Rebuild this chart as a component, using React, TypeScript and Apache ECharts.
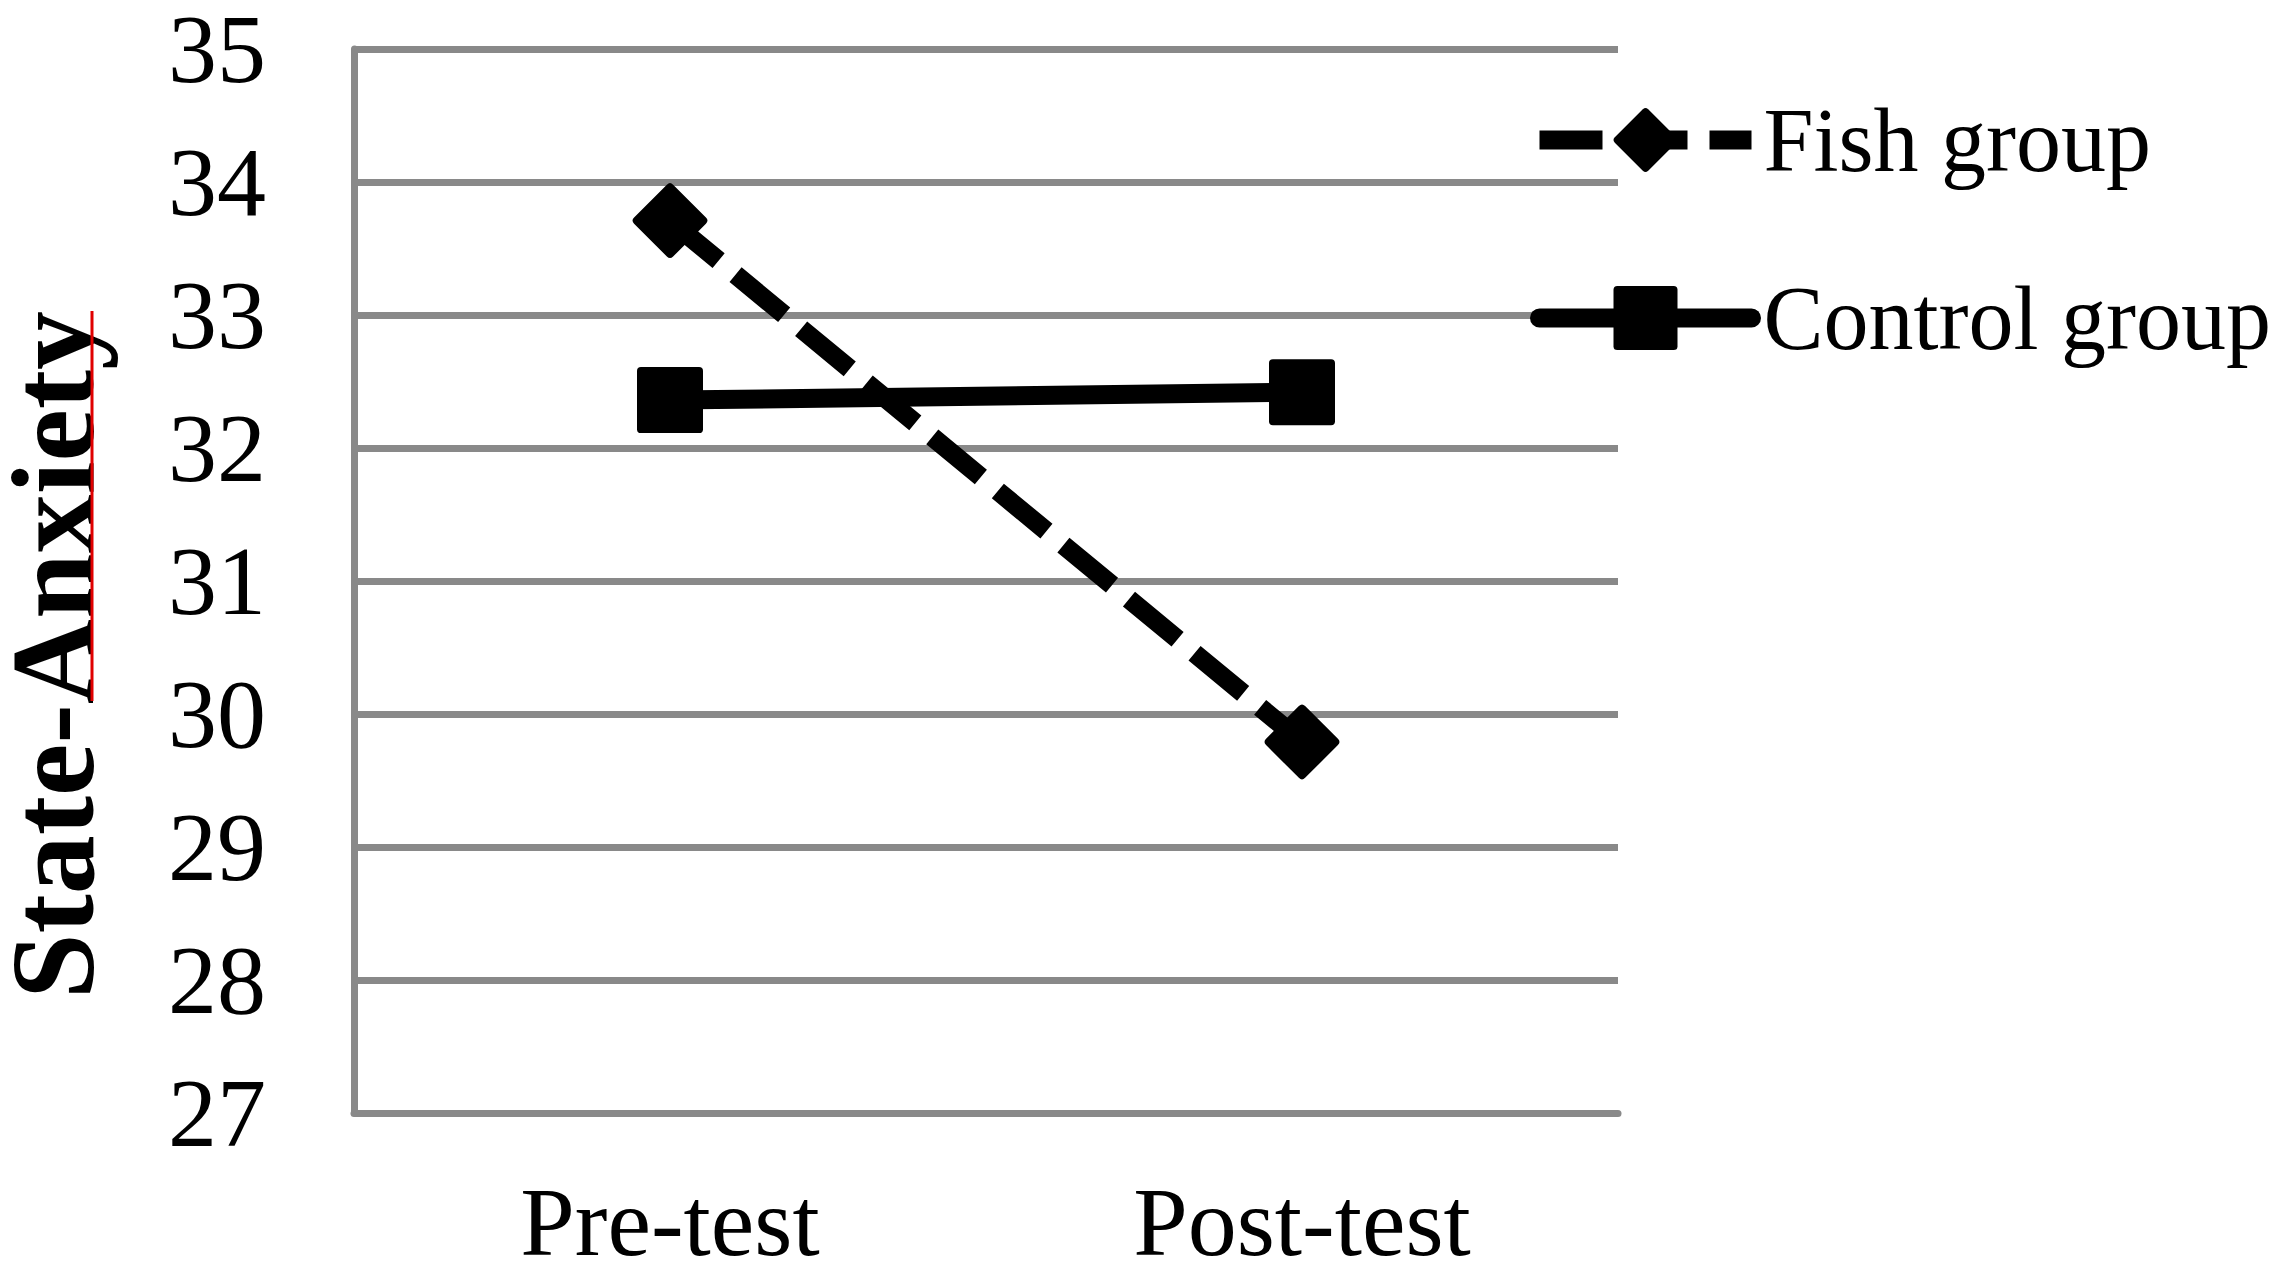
import React, { useEffect, useRef } from "react";
import * as echarts from "echarts";

const categories = ["Pre-test", "Post-test"];
const fishValues = [33.71, 29.79];
const controlValues = [32.36, 32.42];
const seriesNames = ["Fish group", "Control group"];
const yTitle = "State-Anxiety";
const yMin = 27;
const yMax = 35;
const yInterval = 1;

const DIAMOND =
  "path://M46,4 Q50,0 54,4 L96,46 Q100,50 96,54 L54,96 Q50,100 46,96 L4,54 Q0,50 4,46 Z";
const SQUARE =
  "path://M6,0 L94,0 Q100,0 100,6 L100,94 Q100,100 94,100 L6,100 Q0,100 0,94 L0,6 Q0,0 6,0 Z";

const FONT = '"Liberation Serif", "Times New Roman", serif';
const GRAY = "#898989";

export default function App() {
  const ref = useRef<HTMLDivElement>(null);
  useEffect(() => {
    if (!ref.current) return;
    const chart = echarts.init(ref.current, undefined, { renderer: "svg" });
    chart.setOption({
      animation: false,
      backgroundColor: "#ffffff",
      grid: { left: 354, right: 664, top: 42, bottom: 170, containLabel: false },
      legend: {
        orient: "vertical",
        left: 1530,
        top: 95,
        padding: 0,
        itemWidth: 212,
        itemHeight: 80,
        itemGap: 88,
        data: seriesNames,
        textStyle: {
          fontFamily: FONT,
          fontSize: 90,
          lineHeight: 90,
          color: "#000",
          padding: [0, 0, 0, 7],
        },
        lineStyle: { width: 19 },
      },
      xAxis: {
        type: "category",
        data: categories,
        boundaryGap: true,
        axisLine: { show: true, lineStyle: { color: GRAY, width: 7 } },
        axisTick: { show: false },
        axisLabel: { fontFamily: FONT, fontSize: 98, color: "#000", margin: 60 },
        splitLine: { show: false },
      },
      yAxis: {
        type: "value",
        min: yMin,
        max: yMax,
        interval: yInterval,
        axisLine: { show: true, lineStyle: { color: GRAY, width: 7 } },
        axisTick: { show: false },
        axisLabel: {
          fontFamily: FONT,
          fontSize: 98,
          lineHeight: 74,
          color: "#000",
          margin: 88,
        },
        splitLine: { show: true, lineStyle: { color: GRAY, width: 7 } },
      },
      graphic: [
        {
          type: "text",
          x: 53,
          y: 655,
          rotation: Math.PI / 2,
          style: {
            text: yTitle,
            font: `bold 118px ${FONT}`,
            lineHeight: 96,
            fill: "#000",
            textAlign: "center",
            textVerticalAlign: "middle",
          },
        },
        {
          type: "line",
          shape: { x1: 92, y1: 311, x2: 92, y2: 701 },
          style: { stroke: "#e00000", lineWidth: 3 },
        },
      ],
      series: [
        {
          name: seriesNames[0],
          type: "line",
          data: fishValues,
          symbol: DIAMOND,
          symbolSize: 75,
          z: 3,
          itemStyle: { color: "#000", borderWidth: 0 },
          lineStyle: { color: "#000", width: 19, type: [63, 22], cap: "butt" },
        },
        {
          name: seriesNames[1],
          type: "line",
          data: controlValues,
          symbol: SQUARE,
          symbolSize: 66,
          z: 2,
          itemStyle: { color: "#000", borderWidth: 0 },
          lineStyle: { color: "#000", width: 19, type: "solid", cap: "round" },
        },
      ],
    });
    return () => chart.dispose();
  }, []);
  return (
    <div
      ref={ref}
      style={{ position: "absolute", left: 0, top: 0, width: 2282, height: 1283 }}
    />
  );
}
